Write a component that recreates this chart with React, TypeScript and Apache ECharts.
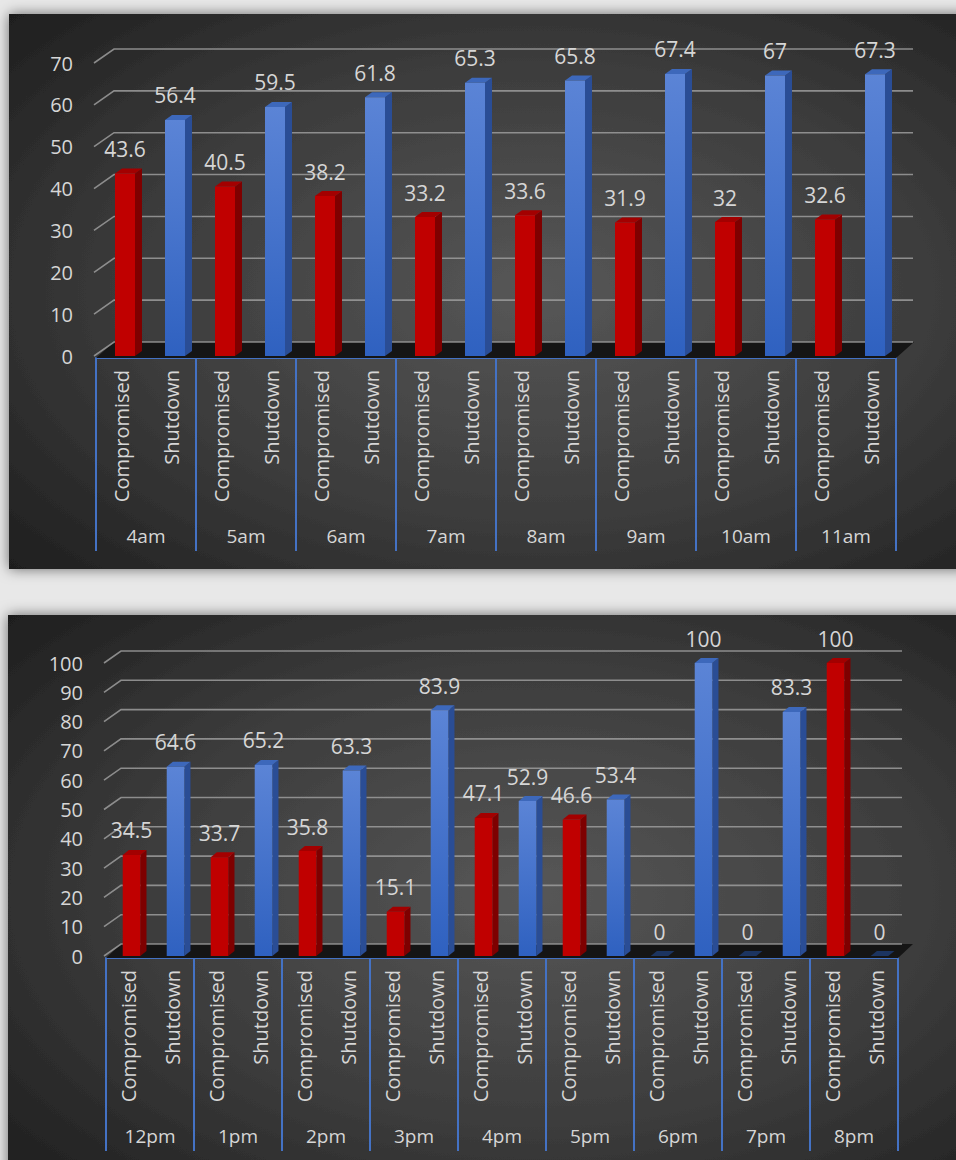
import React, { useEffect, useRef } from "react";
import * as echarts from "echarts";

// ---------- data ----------
const seriesNames = ["Compromised", "Shutdown"];

const amHours = ["4am", "5am", "6am", "7am", "8am", "9am", "10am", "11am"];
const amCompromised = [43.6, 40.5, 38.2, 33.2, 33.6, 31.9, 32, 32.6];
const amShutdown = [56.4, 59.5, 61.8, 65.3, 65.8, 67.4, 67, 67.3];
const amTicks = [0, 10, 20, 30, 40, 50, 60, 70];

const pmHours = ["12pm", "1pm", "2pm", "3pm", "4pm", "5pm", "6pm", "7pm", "8pm"];
const pmCompromised = [34.5, 33.7, 35.8, 15.1, 47.1, 46.6, 0, 0, 100];
const pmShutdown = [64.6, 65.2, 63.3, 83.9, 52.9, 53.4, 100, 83.3, 0];
const pmTicks = [0, 10, 20, 30, 40, 50, 60, 70, 80, 90, 100];

// ---------- styles ----------
const FONT = '"Open Sans", "Noto Sans", sans-serif';
const TEXT = "#d6d6d6";
const AXIS_BLUE = "#4472c4";

const subCats = (hours: string[]) => hours.flatMap(() => seriesNames);

const gridRender = (dx: number, dy: number, extR: number) => (params: any, api: any) => {
  const cs = params.coordSys;
  const v = api.value(1);
  const p = api.coord([0, v]);
  const y = p[1];
  const L = cs.x;
  const R = cs.x + cs.width;
  const children: any[] = [];
  if (v === 0) {
    children.push({
      type: "polygon",
      shape: { points: [[L, y + 2], [L + dx, y + dy], [R + dx, y + dy], [R, y + 2]] },
      style: { fill: "#151515" },
    });
  }
  children.push({
    type: "polyline",
    shape: { points: [[L - 2, y], [L + dx, y + dy], [R + extR, y + dy]] },
    style: { stroke: "#9c9c9c", lineWidth: 1.6, fill: null, opacity: 0.85 },
  });
  return { type: "group", children };
};

const barRender = (front: any, side: string, topC: string) => (params: any, api: any) => {
  const idx = api.value(0);
  const v = api.value(1);
  const top = api.coord([idx, v]);
  const base = api.coord([idx, 0]);
  const bw = api.size([1, 0])[0];
  const fw = bw * 0.4;
  const off = bw * 0.08;
  const dx = bw * 0.14;
  const dy = -5;
  const cx = top[0] + off;
  const xl = cx - fw / 2;
  const xr = cx + fw / 2;
  const yt = top[1];
  const yb = base[1];
  const capColor = v === 0 ? "#1c3460" : topC;
  return {
    type: "group",
    children: [
      {
        type: "polygon",
        shape: { points: [[xr, yt], [xr + dx, yt + dy], [xr + dx, yb + dy], [xr, yb]] },
        style: { fill: side },
      },
      {
        type: "polygon",
        shape: { points: [[xl, yt], [xl + dx, yt + dy], [xr + dx, yt + dy], [xr, yt]] },
        style: { fill: capColor },
      },
      {
        type: "rect",
        shape: { x: xl, y: yt, width: fw, height: Math.max(yb - yt, 0) },
        style: { fill: front },
      },
      {
        type: "text",
        x: cx,
        y: yt - 14,
        style: {
          text: String(v),
          fill: TEXT,
          fontSize: 21,
          fontFamily: FONT,
          align: "center",
          verticalAlign: "bottom",
        },
      },
    ],
  };
};

const blueFront = () =>
  new echarts.graphic.LinearGradient(0, 0, 0, 1, [
    { offset: 0, color: "#5b84d6" },
    { offset: 1, color: "#2f61c0" },
  ]);

const panelFill = () =>
  new echarts.graphic.RadialGradient(0.55, 0.5, 0.75, [
    { offset: 0, color: "#575757" },
    { offset: 0.55, color: "#3c3c3c" },
    { offset: 1, color: "#1e1e1e" },
  ]);

function buildChart(
  gi: number,
  hours: string[],
  comp: number[],
  shut: number[],
  ticks: number[],
  dx: number,
  dy: number,
  extR: number
) {
  const xa = gi * 2;
  const ya = gi;
  const xAxes = [
    {
      type: "category",
      gridIndex: gi,
      data: subCats(hours),
      position: "bottom",
      axisLine: { show: false },
      axisTick: { show: false },
      axisLabel: {
        interval: 0,
        rotate: 90,
        margin: 14,
        color: TEXT,
        fontSize: 20,
        fontFamily: FONT,
      },
    },
    {
      type: "category",
      gridIndex: gi,
      data: hours,
      position: "bottom",
      offset: 2,
      axisLine: { show: true, lineStyle: { color: AXIS_BLUE, width: 2 } },
      axisTick: {
        show: true,
        interval: 0,
        length: 193,
        lineStyle: { color: AXIS_BLUE, width: 2 },
      },
      axisLabel: {
        interval: 0,
        margin: 168,
        color: TEXT,
        fontSize: 19,
        fontFamily: FONT,
      },
    },
  ];
  const yAxis = {
    type: "value",
    gridIndex: gi,
    min: ticks[0],
    max: ticks[ticks.length - 1],
    interval: ticks[1] - ticks[0],
    axisLine: { show: false },
    axisTick: { show: false },
    splitLine: { show: false },
    axisLabel: { color: TEXT, fontSize: 20, fontFamily: FONT, margin: 23 },
  };
  const series = [
    {
      type: "custom",
      xAxisIndex: xa,
      yAxisIndex: ya,
      z: 1,
      silent: true,
      renderItem: gridRender(dx, dy, extR),
      data: ticks.map((t) => [0, t]),
    },
    {
      type: "custom",
      name: seriesNames[0],
      xAxisIndex: xa,
      yAxisIndex: ya,
      z: 3,
      renderItem: barRender("#c00000", "#7e0000", "#a30000"),
      data: comp.map((v, i) => [i * 2, v]),
    },
    {
      type: "custom",
      name: seriesNames[1],
      xAxisIndex: xa,
      yAxisIndex: ya,
      z: 3,
      renderItem: barRender(blueFront(), "#2a4d95", "#3d68bb"),
      data: shut.map((v, i) => [i * 2 + 1, v]),
    },
  ];
  return { xAxes, yAxis, series };
}

export default function App() {
  const ref = useRef<HTMLDivElement>(null);
  useEffect(() => {
    if (!ref.current) return;
    const chart = echarts.init(ref.current, undefined, { renderer: "svg" });
    const a = buildChart(0, amHours, amCompromised, amShutdown, amTicks, 18, -14, 17);
    const b = buildChart(1, pmHours, pmCompromised, pmShutdown, pmTicks, 15, -12, 4);
    chart.setOption({
      animation: false,
      backgroundColor: "#e8e8e8",
      graphic: {
        elements: [
          {
            type: "rect",
            z: -10,
            shape: { x: 9, y: 14, width: 960, height: 555 },
            style: {
              fill: panelFill(),
              shadowBlur: 14,
              shadowColor: "rgba(0,0,0,0.55)",
            },
          },
          {
            type: "rect",
            z: -10,
            shape: { x: 8, y: 615, width: 960, height: 560 },
            style: {
              fill: panelFill(),
              shadowBlur: 14,
              shadowColor: "rgba(0,0,0,0.55)",
            },
          },
        ],
      },
      grid: [
        { left: 96, width: 800, top: 63, height: 293, outerBoundsMode: "none", containLabel: false },
        { left: 106, width: 792, top: 663, height: 293, outerBoundsMode: "none", containLabel: false },
      ],
      xAxis: [...a.xAxes, ...b.xAxes],
      yAxis: [a.yAxis, b.yAxis],
      series: [...a.series, ...b.series],
    });
    return () => chart.dispose();
  }, []);
  return (
    <div
      ref={ref}
      style={{ position: "absolute", left: 0, top: 0, width: 956, height: 1160 }}
    />
  );
}
